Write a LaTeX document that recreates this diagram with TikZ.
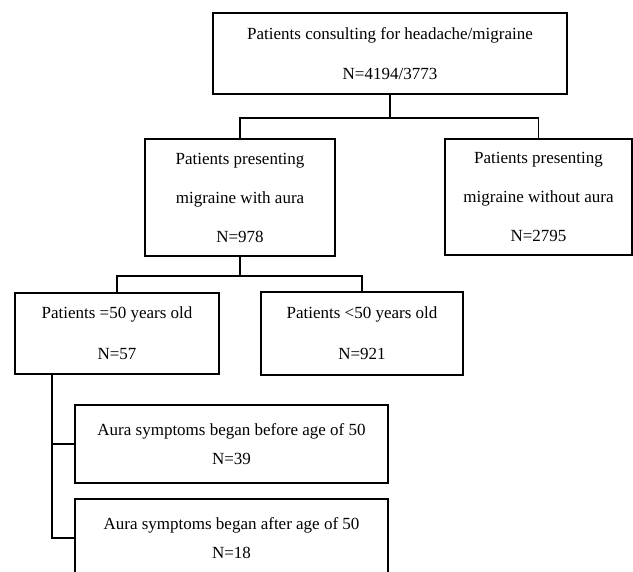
\documentclass[tikz,border=0pt]{standalone}
\usepackage{fontspec}
\setmainfont{Liberation Serif}
\usetikzlibrary{positioning}

\begin{document}
\begin{tikzpicture}[x=1pt, y=-1pt]
\tikzset{box/.style={draw, line width=1.6pt, align=center, inner sep=0pt,
                     font=\fontsize{17}{20}\selectfont},
         link/.style={line width=1.6pt}}
  \clip (0,0) rectangle (633,572);
  \useasboundingbox (0,0) rectangle (633,572);

  \node[box, minimum width=354pt, minimum height=81pt] (P) at (390,53.5)
       {Patients consulting for headache/migraine\\[20pt] N=4194/3773};
  \node[box, minimum width=190pt, minimum height=117pt] (MA) at (240,197.5)
       {Patients presenting\\[19pt] migraine with aura\\[19pt] N=978};
  \node[box, minimum width=187pt, minimum height=116pt] (MO) at (538.5,197)
       {Patients presenting\\[19pt] migraine without aura\\[19pt] N=2795};
  \node[box, minimum width=204pt, minimum height=81pt] (O50) at (117,333.5)
       {Patients =50 years old\\[21pt] N=57};
  \node[box, minimum width=202pt, minimum height=83pt] (U50) at (362,333.5)
       {Patients <50 years old\\[21pt] N=921};
  \node[box, minimum width=313pt, minimum height=78pt] (B50) at (231.5,444)
       {Aura symptoms began before age of 50\\[9pt] N=39};
  \node[box, minimum width=313pt, minimum height=78pt] (A50) at (231.5,538)
       {Aura symptoms began after age of 50\\[9pt] N=18};

  \draw[link] (P.south) -- ++(0,23) coordinate (J1);
  \draw[link] (MA.north) |- (J1) -| (MO.north);
  \draw[link] (MA.south) -- ++(0,19) coordinate (J2);
  \draw[link] (O50.north) |- (J2) -| (U50.north);
  \draw[link] (O50.south -| 52,0) coordinate (J3) |- (B50.west);
  \draw[link] (J3) |- (A50.west);
\end{tikzpicture}
\end{document}
